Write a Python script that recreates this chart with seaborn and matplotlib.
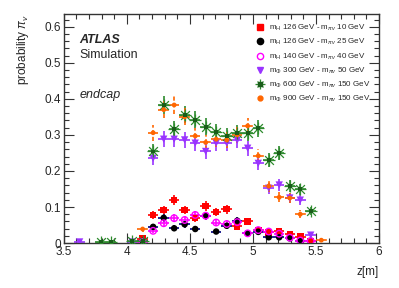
import numpy as np
import pandas as pd
import matplotlib
matplotlib.use("Agg")
import matplotlib.pyplot as plt
import seaborn as sns
from matplotlib.lines import Line2D
from matplotlib.ticker import MultipleLocator

# bin centres in z [m] (bins of 1/12 m)
z_bins = [3.542, 3.625, 3.708, 3.792, 3.875, 3.958, 4.042, 4.125, 4.208, 4.292,
          4.375, 4.458, 4.542, 4.625, 4.708, 4.792, 4.875, 4.958, 5.042, 5.125,
          5.208, 5.292, 5.375, 5.458, 5.542, 5.625]
N = None

p_h126_s10 = [N, N, N, N, N, N, N, 0.012, 0.078, 0.092, 0.120, 0.092, 0.070, 0.103,
              0.086, 0.094, 0.046, 0.060, 0.036, 0.030, 0.034, 0.024, 0.018, 0.006, N, N]
p_h126_s25 = [N, N, N, N, N, N, N, 0.006, 0.045, 0.070, 0.041, 0.052, 0.039, 0.075,
              0.032, 0.048, 0.062, 0.027, 0.031, 0.016, 0.016, 0.013, 0.005, N, N, N]
p_h140_s40 = [N, N, N, N, N, N, N, 0.003, 0.034, 0.055, 0.069, 0.064, 0.078, 0.076,
              0.057, 0.053, 0.058, 0.027, 0.036, 0.032, 0.026, 0.015, 0.007, 0.006, N, N]
p_phi300_s50 = [N, 0.003, N, N, N, N, 0.003, N, 0.235, 0.288, 0.288, 0.286, 0.277, 0.254,
                0.277, 0.277, 0.285, 0.263, 0.221, 0.152, 0.161, 0.125, 0.119, 0.022, N, N]
p_phi600_s150 = [N, N, N, 0.004, 0.003, N, 0.005, 0.006, 0.254, 0.383, 0.316, 0.356, 0.342,
                 0.323, 0.309, 0.297, 0.306, 0.305, 0.318, 0.231, 0.249, 0.158, 0.149, 0.089, N, N]
p_phi900_s150 = [N, N, N, N, N, N, N, 0.039, 0.306, 0.370, 0.383, 0.350, 0.297, 0.279,
                 0.288, 0.286, 0.300, 0.325, 0.242, 0.158, 0.127, 0.125, 0.080, N, 0.008, N]

labels = [
    r"m$_{\rm H}$ 126 GeV - m$_{\pi v}$ 10 GeV",
    r"m$_{\rm H}$ 126 GeV - m$_{\pi v}$ 25 GeV",
    r"m$_{\rm H}$ 140 GeV - m$_{\pi v}$ 40 GeV",
    r"m$_{\Phi}$ 300 GeV - m$_{\pi v}$ 50 GeV",
    r"m$_{\Phi}$ 600 GeV - m$_{\pi v}$ 150 GeV",
    r"m$_{\Phi}$ 900 GeV - m$_{\pi v}$ 150 GeV",
]
series = [p_h126_s10, p_h126_s25, p_h140_s40, p_phi300_s50, p_phi600_s150, p_phi900_s150]
colors = ["#ff0000", "#000000", "#ff00ff", "#9933ff", "#2e8b2e", "#ff6600"]
bar_colors = ["#ff0000", "#000080", "#ff00ff", "#9933ff", "#2e8b2e", "#ff6600"]

rows = []
for lab, vals in zip(labels, series):
    for z, p in zip(z_bins, vals):
        if p is not None:
            rows.append({"series": lab, "z": z, "p": p})
df = pd.DataFrame(rows)

sns.set_style("ticks")
plt.rcParams["font.family"] = ["Liberation Sans", "DejaVu Sans"]
plt.rcParams["mathtext.fontset"] = "custom"
plt.rcParams["mathtext.rm"] = "Liberation Sans"
plt.rcParams["mathtext.it"] = "Liberation Sans:italic"
plt.rcParams["mathtext.bf"] = "Liberation Sans:bold"

fig = plt.figure(figsize=(3.99, 2.88), dpi=100)
ax = fig.add_axes([0.160, 0.156, 0.790, 0.795])

half = 1 / 24
for i, lab in enumerate(labels):
    d = df[df["series"] == lab]
    yerr = 0.04 * np.sqrt(d["p"].values)
    eb = ax.errorbar(d["z"], d["p"], xerr=half, yerr=yerr, fmt="none",
                     ecolor=bar_colors[i], elinewidth=1.2, capsize=0, zorder=2)
    if i == 5:
        for lc in eb[2]:
            lc.set_linestyle((0, (2.5, 1.5)))

ms = 22
sns.scatterplot(data=df[df["series"] == labels[0]], x="z", y="p", marker="s",
                color=colors[0], s=ms, edgecolor="none", ax=ax, zorder=3, legend=False)
sns.scatterplot(data=df[df["series"] == labels[1]], x="z", y="p", marker="o",
                color=colors[1], s=ms, edgecolor="none", ax=ax, zorder=3, legend=False)
sns.scatterplot(data=df[df["series"] == labels[2]], x="z", y="p", marker="o",
                facecolor="none", edgecolor=colors[2], linewidth=1.0, s=ms,
                ax=ax, zorder=3, legend=False)
sns.scatterplot(data=df[df["series"] == labels[3]], x="z", y="p", marker="v",
                color=colors[3], s=ms + 6, edgecolor="none", ax=ax, zorder=3, legend=False)
green = df[df["series"] == labels[4]]
sns.scatterplot(data=green, x="z", y="p", marker="+", color=colors[4], s=70,
                linewidth=0.9, ax=ax, zorder=3, legend=False)
sns.scatterplot(data=green, x="z", y="p", marker="x", color=colors[4], s=40,
                linewidth=0.9, ax=ax, zorder=3, legend=False)
sns.scatterplot(data=green, x="z", y="p", marker="s", color="#1a5c1a", s=8,
                edgecolor="none", ax=ax, zorder=4, legend=False)
sns.scatterplot(data=df[df["series"] == labels[5]], x="z", y="p", marker="o",
                color=colors[5], s=12, edgecolor="none", ax=ax, zorder=3, legend=False)

ax.set_xlim(3.5, 6.0)
ax.set_ylim(0, 0.635)
ax.xaxis.set_major_locator(MultipleLocator(0.5))
ax.xaxis.set_minor_locator(MultipleLocator(0.1))
ax.yaxis.set_major_locator(MultipleLocator(0.1))
ax.yaxis.set_minor_locator(MultipleLocator(0.02))
ax.xaxis.set_major_formatter(matplotlib.ticker.FuncFormatter(lambda v, _: f"{v:g}"))
ax.yaxis.set_major_formatter(matplotlib.ticker.FuncFormatter(lambda v, _: f"{v:g}"))
ax.tick_params(which="both", direction="in", top=True, right=True, labelsize=8.5,
               color="#333333", pad=2)
ax.tick_params(which="major", length=7, width=0.8)
ax.tick_params(which="minor", length=3.5, width=0.8)
for sp in ax.spines.values():
    sp.set_color("#333333")
    sp.set_linewidth(1.0)

ax.set_xlabel("z[m]", loc="right", fontsize=8.5, labelpad=6)
ax.set_ylabel(r"probability $\pi_{v}$", loc="top", fontsize=8.5, labelpad=10)

ax.text(0.05, 0.885, "ATLAS", transform=ax.transAxes, fontsize=9,
        fontweight="bold", fontstyle="italic", va="center")
ax.text(0.05, 0.82, "Simulation", transform=ax.transAxes, fontsize=9, va="center")
ax.text(0.05, 0.645, "endcap", transform=ax.transAxes, fontsize=9,
        fontstyle="italic", va="center")

handles = [
    Line2D([], [], ls="none", marker="s", color=colors[0], ms=4.5),
    Line2D([], [], ls="none", marker="o", color=colors[1], ms=4.5),
    Line2D([], [], ls="none", marker="o", mfc="none", mec=colors[2], ms=4.5, mew=1),
    Line2D([], [], ls="none", marker="v", color=colors[3], ms=5),
    (Line2D([], [], ls="none", marker="+", color=colors[4], ms=7, mew=0.9),
     Line2D([], [], ls="none", marker="x", color=colors[4], ms=5, mew=0.9),
     Line2D([], [], ls="none", marker="s", color="#1a5c1a", ms=2.5)),
    Line2D([], [], ls="none", marker="o", color=colors[5], ms=3.5),
]
ax.legend(handles, labels, loc="upper left", bbox_to_anchor=(0.60, 0.975),
          frameon=False, fontsize=5.8, handlelength=1.0, handletextpad=0.6,
          labelspacing=0.5, borderaxespad=0)

fig.savefig("out.png", dpi=100)
